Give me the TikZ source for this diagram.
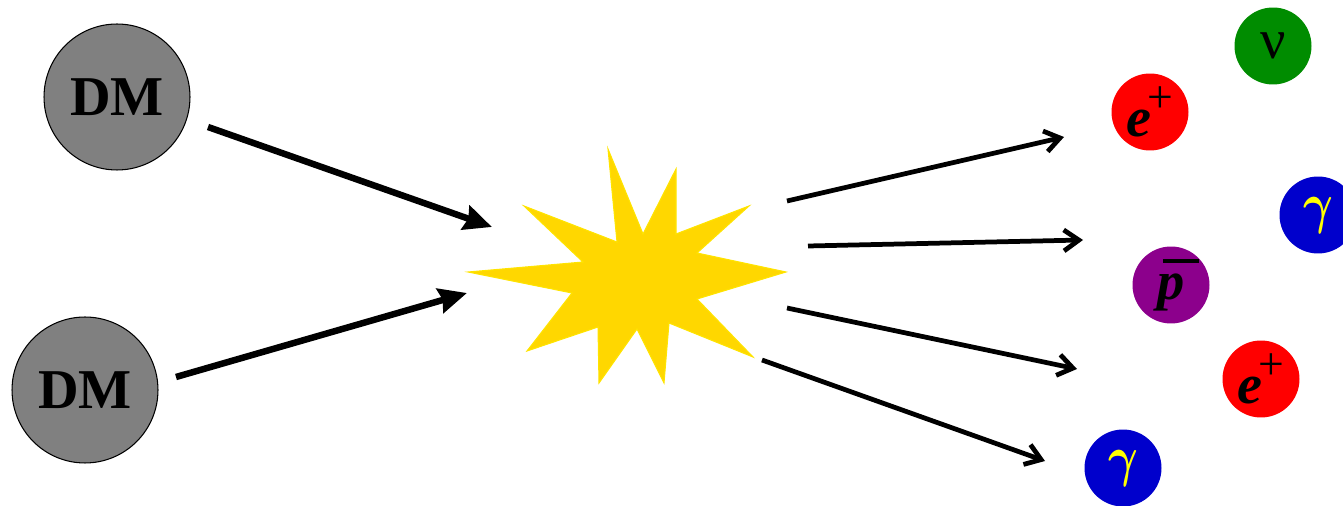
\documentclass[tikz,border=0pt]{standalone}
\usepackage{fontspec}
\setmainfont{Liberation Serif}
\usetikzlibrary{arrows.meta}
\definecolor{dmgray}{RGB}{128,128,128}
\definecolor{nugreen}{RGB}{0,140,0}
\definecolor{epred}{RGB}{255,0,0}
\definecolor{gblue}{RGB}{0,0,204}
\definecolor{ppurple}{RGB}{140,0,140}
\definecolor{gyellow}{RGB}{255,255,0}
\definecolor{stargold}{RGB}{255,215,0}
\definecolor{staredge}{RGB}{255,228,0}
\newcommand{\biggam}{\scalebox{2.6}[3.2]{\boldmath$\gamma$}}
\begin{document}
\begin{tikzpicture}[x=0.02cm,y=-0.02cm,
  dm/.style={circle, draw=black, line width=0.6pt, fill=dmgray, minimum size=2.92cm, inner sep=0pt,
    font=\fontsize{32}{32}\selectfont\bfseries},
  particle/.style={circle, minimum size=1.54cm, inner sep=0pt},
  thickarrow/.style={line width=0.13cm, -{Stealth[length=0.56cm, width=0.5cm, inset=0.06cm]}},
  thinarrow/.style={line width=0.095cm, -{Straight Barb[length=0.3cm, width=0.42cm]}},
  eplus/.style={particle, fill=epred},
  gam/.style={particle, fill=gblue, text=gyellow},
]
\useasboundingbox (0,0) rectangle (1343,506);

% star
\fill[stargold, draw=staredge, line width=0.6pt]
  (468,272) -- (583,262) -- (524,206) -- (617,242) -- (608,149) -- (643,234)
  -- (676,169) -- (676,234) -- (749,206) -- (697,253) -- (786,272) -- (697,299)
  -- (753,357) -- (669,323) -- (664,383) -- (637,329) -- (599,383) -- (598,327)
  -- (527,351) -- (572,293) -- cycle;

% dark matter
\node[dm] (dm1) at (117,97) {DM};
\node[dm] (dm2) at (85,390) {DM};

% products
\node[particle, fill=nugreen, font=\fontsize{32}{32}\selectfont] (nu) at (1273,46) {ν};
\node[eplus] (ep1) at (1150,112) {\fontsize{32}{32}\selectfont\bfseries\itshape e\kern-0.06em\raisebox{0.42em}{\fontsize{26}{26}\selectfont\mdseries\upshape +}};
\node[gam] (g1) at (1318,215) {\biggam};
\node[particle, fill=ppurple] (pbar) at (1171,285) {\fontsize{31}{31}\selectfont\bfseries\itshape\makebox[0pt][l]{\hspace{0.1em}\rule[0.66em]{0.66em}{2.4pt}}p};
\node[eplus] (ep2) at (1261,379) {\fontsize{32}{32}\selectfont\bfseries\itshape e\kern-0.06em\raisebox{0.42em}{\fontsize{26}{26}\selectfont\mdseries\upshape +}};
\node[gam] (g2) at (1123,468) {\biggam};

% arrow ends
\coordinate (a1s) at (208,127); \coordinate (a1e) at (492,227);
\coordinate (a2s) at (176,377); \coordinate (a2e) at (467,293);
\coordinate (b1s) at (787,201); \coordinate (b1e) at (1064,137);
\coordinate (b2s) at (808,246); \coordinate (b2e) at (1083,240);
\coordinate (b3s) at (787,308); \coordinate (b3e) at (1077,369);
\coordinate (b4s) at (762,360); \coordinate (b4e) at (1045,461);

\draw[thickarrow] (a1s) -- (a1e);
\draw[thickarrow] (a2s) -- (a2e);
\draw[thinarrow] (b1s) -- (b1e);
\draw[thinarrow] (b2s) -- (b2e);
\draw[thinarrow] (b3s) -- (b3e);
\draw[thinarrow] (b4s) -- (b4e);
\end{tikzpicture}
\end{document}
